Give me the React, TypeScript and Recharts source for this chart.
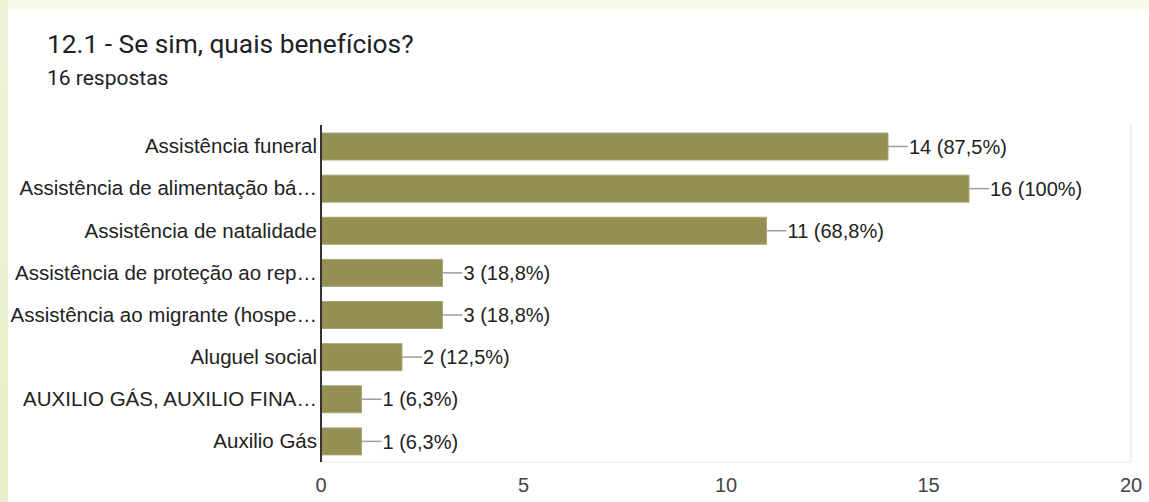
import React from 'react';
import { BarChart, Bar, XAxis, YAxis, CartesianGrid, LabelList } from 'recharts';

const categories = [
  'Assistência funeral',
  'Assistência de alimentação bá…',
  'Assistência de natalidade',
  'Assistência de proteção ao rep…',
  'Assistência ao migrante (hospe…',
  'Aluguel social',
  'AUXILIO GÁS, AUXILIO FINA…',
  'Auxilio Gás',
];
const counts = [14, 16, 11, 3, 3, 2, 1, 1];
const percents = [87.5, 100, 68.8, 18.8, 18.8, 12.5, 6.3, 6.3];
const axisTicks = [0, 5, 10, 15, 20];
const gridLines = [0, 2.5, 5, 7.5, 10, 12.5, 15, 17.5, 20];

const data = categories.map((name, i) => ({ name, value: counts[i], pct: percents[i] }));

const FONT = "'Liberation Sans', Arial, sans-serif";
const fmtPct = (p: number) => (Number.isInteger(p) ? String(p) : p.toFixed(1).replace('.', ','));

function ValueLabel(props: any) {
  const { x, y, width, height, index } = props;
  const d = data[index];
  const end = x + width;
  const cy = y + height / 2;
  return (
    <g>
      <line x1={end} y1={cy} x2={end + 20} y2={cy} stroke="#9e9e9e" strokeWidth={1.5} />
      <text x={end + 21} y={cy} dy="0.36em" fontSize={20} fill="#222" fontFamily={FONT}>
        {`${d.value} (${fmtPct(d.pct)}%)`}
      </text>
    </g>
  );
}

export default function App() {
  return (
    <div style={{ position: 'fixed', left: 0, top: 0, width: 1149, height: 502, background: 'linear-gradient(180deg, #eef3d8 0%, #e6edc8 100%)', overflow: 'hidden' }}>
      <div style={{ position: 'absolute', left: 8, top: 0, right: 0, height: 10, background: '#f8faea' }} />
      <div style={{ position: 'absolute', left: 8, top: 10, width: 1141, height: 492, background: '#fff' }} />
      <div style={{ position: 'absolute', left: 47, top: 27, fontFamily: 'Roboto, sans-serif', fontSize: 26.3, color: '#202124', lineHeight: '34px' }}>
        12.1 - Se sim, quais benefícios?
      </div>
      <div style={{ position: 'absolute', left: 47, top: 64, fontFamily: 'Roboto, sans-serif', fontSize: 21, color: '#202124', lineHeight: '28px' }}>
        16 respostas
      </div>
      <div style={{ position: 'absolute', left: 0, top: 0 }}>
        <BarChart
          width={1149}
          height={502}
          data={data}
          layout="vertical"
          margin={{ top: 125, right: 18, bottom: 0, left: 0 }}
        >
          <CartesianGrid horizontal={false} xAxisId="top" stroke="#ebebeb" strokeWidth={1.5} />
          <XAxis
            type="number"
            domain={[0, 20]}
            ticks={axisTicks}
            axisLine={{ stroke: '#e6e6e6' }}
            tickLine={false}
            tickMargin={10}
            height={40}
            tick={{ fontSize: 20, fill: '#444', fontFamily: FONT }}
          />
          <XAxis
            xAxisId="top"
            type="number"
            domain={[0, 20]}
            ticks={gridLines}
            orientation="top"
            height={0}
            tick={false}
            tickLine={false}
            axisLine={{ stroke: '#e6e6e6' }}
          />
          <YAxis
            type="category"
            dataKey="name"
            width={321}
            axisLine={{ stroke: '#333', strokeWidth: 2 }}
            tickLine={false}
            tickSize={0}
            tickMargin={4}
            interval={0}
            tick={{ fontSize: 20.5, fill: '#222', fontFamily: FONT }}
          />
          <Bar dataKey="value" barSize={27} fill="#968f54" stroke="#aaa572" strokeWidth={1} isAnimationActive={false}>
            <LabelList dataKey="value" content={<ValueLabel />} />
          </Bar>
        </BarChart>
      </div>
    </div>
  );
}
